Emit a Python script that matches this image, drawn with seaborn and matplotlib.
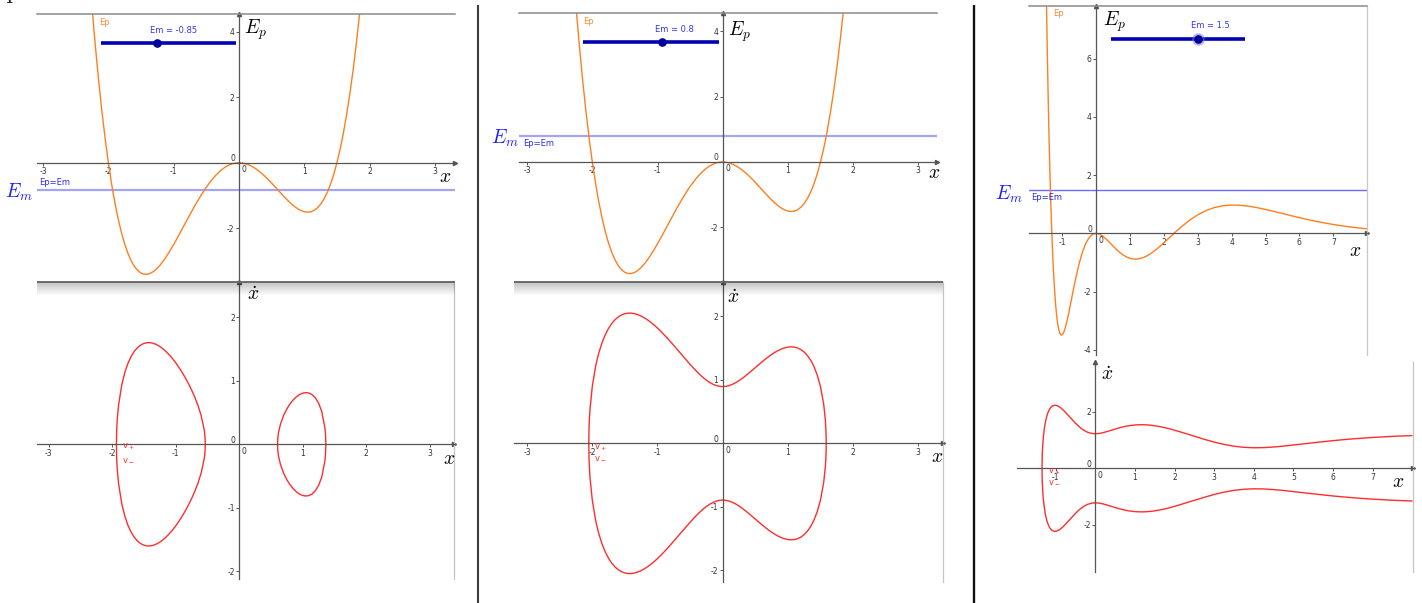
import numpy as np
import matplotlib
matplotlib.use("Agg")
import matplotlib.pyplot as plt
import seaborn as sns

sns.set_theme(style="white")
plt.rcParams.update({
    "font.family": ["DejaVu Sans"],
    "mathtext.fontset": "cm",
    "axes.unicode_minus": False,
})

W, H = 1422, 603

# Potential energy of the double well, shared by the first two views
x_quartic = np.array([-2.3, -2.25, -2.2, -2.15, -2.1, -2.05, -2.045, -2.035, -2, -1.95, -1.929, -1.92, -1.9,
                      -1.85, -1.8, -1.75, -1.7, -1.65, -1.6, -1.55, -1.5, -1.45, -1.4, -1.35, -1.3, -1.25,
                      -1.2, -1.15, -1.1, -1.05, -1, -0.95, -0.9, -0.85, -0.8, -0.75, -0.7, -0.65, -0.6,
                      -0.55, -0.539, -0.5, -0.45, -0.4, -0.35, -0.3, -0.25, -0.2, -0.15, -0.1, -0.05, 0,
                      0.05, 0.1, 0.15, 0.2, 0.25, 0.3, 0.35, 0.4, 0.45, 0.5, 0.55, 0.6, 0.608, 0.62, 0.65,
                      0.7, 0.75, 0.8, 0.85, 0.9, 0.95, 1, 1.05, 1.1, 1.15, 1.2, 1.25, 1.3, 1.35, 1.36, 1.4,
                      1.45, 1.5, 1.55, 1.575, 1.585, 1.6, 1.65, 1.7, 1.75, 1.8, 1.85, 1.9])
ep_quartic = np.array([6.0306, 4.7461, 3.5816, 2.5308, 1.5876, 0.7459, 0.6671, 0.5124, 0, -0.6559, -0.9059,
                       -1.0086, -1.2274, -1.7198, -2.1384, -2.4883, -2.7744, -3.0016, -3.1744, -3.2974,
                       -3.375, -3.4113, -3.4104, -3.3762, -3.3124, -3.2227, -3.1104, -2.9789, -2.8314,
                       -2.6708, -2.5, -2.3217, -2.1384, -1.9526, -1.7664, -1.582, -1.4014, -1.2263, -1.0584,
                       -0.8992, -0.8655, -0.75, -0.6121, -0.4864, -0.3739, -0.2754, -0.1914, -0.1224, -0.0687,
                       -0.0304, -0.0076, 0, -0.0074, -0.0294, -0.0653, -0.1144, -0.1758, -0.2484, -0.3311,
                       -0.4224, -0.5209, -0.625, -0.7328, -0.8424, -0.86, -0.8863, -0.9517, -1.0584, -1.1602,
                       -1.2544, -1.3384, -1.4094, -1.4643, -1.5, -1.5132, -1.5004, -1.4581, -1.3824, -1.2695,
                       -1.1154, -0.9158, -0.8701, -0.6664, -0.3627, 0, 0.4264, 0.6651, 0.7655, 0.9216,
                       1.4906, 2.1386, 2.8711, 3.6936, 4.6118, 5.6316])

# Potential energy of the third view
x_well = np.array([-1.48, -1.47, -1.46, -1.45, -1.44, -1.43, -1.42, -1.41, -1.4, -1.39, -1.38, -1.37, -1.36,
                   -1.35, -1.34, -1.33, -1.32, -1.31, -1.3, -1.28, -1.26, -1.24, -1.22, -1.2, -1.18, -1.16,
                   -1.14, -1.12, -1.1, -1.08, -1.06, -1.04, -1.02, -1, -0.98, -0.96, -0.94, -0.92, -0.9,
                   -0.88, -0.86, -0.84, -0.82, -0.8, -0.78, -0.76, -0.74, -0.72, -0.7, -0.68, -0.66, -0.64,
                   -0.62, -0.6, -0.5, -0.4, -0.3, -0.2, -0.1, 0, 0.1, 0.2, 0.3, 0.4, 0.5, 0.6, 0.7, 0.8,
                   0.9, 1, 1.1, 1.2, 1.3, 1.4, 1.5, 1.6, 1.7, 1.8, 1.9, 2, 2.1, 2.2, 2.3, 2.4, 2.5, 2.75,
                   3, 3.25, 3.5, 3.75, 4, 4.25, 4.5, 4.75, 5, 5.25, 5.5, 5.75, 6, 6.25, 6.5, 6.75, 7, 7.25,
                   7.5, 7.75, 8])
ep_well = np.array([9.339, 8.563, 7.822, 7.116, 6.443, 5.802, 5.192, 4.612, 4.06, 3.537, 3.04, 2.569, 2.122,
                    1.7, 1.3, 0.922, 0.566, 0.23, -0.086, -0.662, -1.169, -1.611, -1.994, -2.323, -2.602,
                    -2.836, -3.028, -3.182, -3.302, -3.391, -3.451, -3.486, -3.498, -3.49, -3.464, -3.422,
                    -3.366, -3.298, -3.219, -3.13, -3.035, -2.933, -2.825, -2.714, -2.599, -2.483, -2.365,
                    -2.246, -2.128, -2.01, -1.893, -1.778, -1.665, -1.555, -1.051, -0.644, -0.342, -0.142,
                    -0.033, 0, -0.027, -0.098, -0.199, -0.314, -0.435, -0.551, -0.656, -0.744, -0.813,
                    -0.86, -0.884, -0.887, -0.869, -0.831, -0.776, -0.707, -0.625, -0.533, -0.433, -0.328,
                    -0.22, -0.111, -0.003, 0.103, 0.206, 0.441, 0.635, 0.784, 0.887, 0.947, 0.97, 0.963,
                    0.931, 0.882, 0.82, 0.752, 0.68, 0.608, 0.538, 0.471, 0.41, 0.353, 0.303, 0.258, 0.218,
                    0.184, 0.154])

em_values = [-0.85, 0.8, 1.5]
slider_min, slider_max = -5, 5
# Turning points where Ep = Em (v+ and v- meet there)
turning_1 = [-1.9338, -0.5339, 0.6035, 1.3642]
turning_2 = [-2.0534, 1.5884]
turning_3 = [-1.3451]

ORANGE = "#ff7f1f"
RED = "#ff2d2d"
AXIS = "#555555"
LABEL = "#333333"

fig = plt.figure(figsize=(W / 100, H / 100), dpi=100)
fig.patch.set_facecolor("white")


def px_axes(l, t, r, b):
    ax = fig.add_axes([l / W, 1 - b / H, (r - l) / W, (b - t) / H])
    ax.patch.set_alpha(0)
    return ax


def geo_axes(ax, xlim, ylim, xticks, yticks, top=None, right=None):
    ax.set_xlim(*xlim)
    ax.set_ylim(*ylim)
    for s in ax.spines.values():
        s.set_visible(False)
    for s in ("left", "bottom"):
        ax.spines[s].set_visible(True)
        ax.spines[s].set_position(("data", 0))
        ax.spines[s].set_color(AXIS)
        ax.spines[s].set_linewidth(0.9)
    if top:
        ax.spines["top"].set_visible(True)
        ax.spines["top"].set_color(top)
        ax.spines["top"].set_linewidth(1.1)
    if right:
        ax.spines["right"].set_visible(True)
        ax.spines["right"].set_color(right)
        ax.spines["right"].set_linewidth(0.9)
    ax.set_xticks(xticks)
    ax.set_xticklabels([str(t) for t in xticks])
    ax.set_yticks(yticks)
    ax.set_yticklabels([str(t) for t in yticks])
    ax.tick_params(direction="out", length=2.2, width=0.7, colors=AXIS, labelsize=5.5,
                   labelcolor=LABEL, pad=1.0)
    ax.tick_params(axis="x", bottom=True)
    ax.tick_params(axis="y", left=True)
    ax.plot(1, 0, ">", transform=ax.get_yaxis_transform(), clip_on=False, ms=3, color=AXIS)
    ax.plot(0, 1, "^", transform=ax.get_xaxis_transform(), clip_on=False, ms=3, color=AXIS)
    ax.annotate("0", (0, 0), xytext=(-4, 4), textcoords="offset pixels", ha="right", va="center",
                fontsize=5.5, color=LABEL)
    ax.annotate("0", (0, 0), xytext=(5, -7), textcoords="offset pixels", ha="center", va="center",
                fontsize=5.5, color=LABEL)


def potential_view(ax, xs, eps, em, em_lw, em_color):
    sns.lineplot(x=xs, y=eps, ax=ax, color=ORANGE, lw=1.0, sort=False, estimator=None)
    ax.axhline(em, color=em_color, lw=em_lw, zorder=1)


def phase_loop(xs, eps, em, a, b):
    inside = (xs > a) & (xs < b)
    xi = xs[inside]
    v = np.sqrt(np.clip(em - eps[inside], 0, None))
    px = np.concatenate([[a], xi, [b], xi[::-1], [a]])
    pv = np.concatenate([[0], v, [0], -v[::-1], [0]])
    return px, pv


def phase_open(xs, eps, em, a):
    inside = xs > a
    xi = xs[inside]
    v = np.sqrt(np.clip(em - eps[inside], 0, None))
    px = np.concatenate([xi[::-1], [a], xi])
    pv = np.concatenate([-v[::-1], [0], v])
    return px, pv


def vlabels(ax, tp, dy):
    ax.annotate(r"$\mathregular{v_+}$", (tp, 0), xytext=(5.5, -dy[0]), textcoords="offset pixels",
                ha="left", va="center", fontsize=6, color=RED)
    ax.annotate(r"$\mathregular{v_-}$", (tp, 0), xytext=(5.5, -dy[1]), textcoords="offset pixels",
                ha="left", va="center", fontsize=6, color=RED)


# ---- view 1: Em = -0.85 ----
ax1 = px_axes(37, 14.3, 455, 281.7)
geo_axes(ax1, (-3.093, 3.308), (-3.639, 4.538), [-3, -2, -1, 1, 2, 3], [-2, 2, 4], top="#8a8a8a")
potential_view(ax1, x_quartic, ep_quartic, em_values[0], 1.6, "#a4a4f6")

ax1p = px_axes(37, 282, 454.3, 579)
geo_axes(ax1p, (-3.184, 3.387), (-2.121, 2.556), [-3, -2, -1, 1, 2, 3], [-2, -1, 1, 2], right="#c4c4c4")
for a, b in [(turning_1[0], turning_1[1]), (turning_1[2], turning_1[3])]:
    px, pv = phase_loop(x_quartic, ep_quartic, em_values[0], a, b)
    sns.lineplot(x=px, y=pv, ax=ax1p, color=RED, lw=1.0, sort=False, estimator=None)
vlabels(ax1p, turning_1[0], (2, 15))

# ---- view 2: Em = 0.8 ----
ax2 = px_axes(519.3, 13.3, 936.7, 281.7)
geo_axes(ax2, (-3.120, 3.282), (-3.661, 4.547), [-3, -2, -1, 1, 2, 3], [-2, 2, 4], top="#8a8a8a")
potential_view(ax2, x_quartic, ep_quartic, em_values[1], 1.6, "#a4a4f6")

ax2p = px_axes(514.3, 282, 943.3, 581.7)
geo_axes(ax2p, (-3.196, 3.384), (-2.181, 2.543), [-3, -2, -1, 1, 2, 3], [-2, -1, 1, 2], right="#c4c4c4")
px, pv = phase_loop(x_quartic, ep_quartic, em_values[1], turning_2[0], turning_2[1])
sns.lineplot(x=px, y=pv, ax=ax2p, color=RED, lw=1.0, sort=False, estimator=None)
vlabels(ax2p, turning_2[0], (4, 14))

# ---- view 3: Em = 1.5 ----
ax3 = px_axes(1029.3, 6, 1367.3, 355)
geo_axes(ax3, (-1.968, 8.003), (-4.182, 7.811), [-1, 1, 2, 3, 4, 5, 6, 7], [-4, -2, 2, 4, 6],
         top="#8a8a8a", right="#c8c8c8")
potential_view(ax3, x_well, ep_well, em_values[2], 1.0, "#6b6bff")

ax3p = px_axes(1016.7, 361.7, 1412.7, 571.7)
geo_axes(ax3p, (-1.985, 8.015), (-3.667, 3.780), [-1, 1, 2, 3, 4, 5, 6, 7], [-2, 2], right="#c4c4c4")
px, pv = phase_open(x_well, ep_well, em_values[2], turning_3[0])
sns.lineplot(x=px, y=pv, ax=ax3p, color=RED, lw=1.0, sort=False, estimator=None)
vlabels(ax3p, turning_3[0], (3, 13))

# ---- overlay in pixel coordinates: separators, sliders, labels ----
bg = fig.add_axes([0, 0, 1, 1])
bg.set_xlim(0, W)
bg.set_ylim(H, 0)
bg.axis("off")
bg.patch.set_alpha(0)
bg.set_zorder(5)

bg.plot([477.7, 477.7], [5, H], color="#3c3c3c", lw=1.5, solid_capstyle="butt")
bg.plot([974, 974], [5, H], color="#111111", lw=1.7, solid_capstyle="butt")
bg.text(10, 3, "I", ha="center", va="baseline", fontsize=14, family="DejaVu Serif", clip_on=False)

shade = np.zeros((40, 1, 4))
shade[:, 0, 3] = np.linspace(0.24, 0.0, 40)
for l, r in [(37, 455), (514.3, 943.3)]:
    bg.imshow(shade, extent=(l, r, 296, 282.5), aspect="auto", interpolation="bilinear", zorder=1)
    bg.plot([l, r], [282, 282], color="#6a6a6a", lw=1.4, solid_capstyle="butt", zorder=2)
bg.set_xlim(0, W)
bg.set_ylim(H, 0)

sliders = [(100.7, 236.0, 43.3), (583.3, 718.7, 42.3), (1110.7, 1245.3, 39.0)]
for i, ((s0, s1, sy), em) in enumerate(zip(sliders, em_values)):
    bg.plot([s0, s1], [sy, sy], color="#0000b4", lw=2.6, solid_capstyle="butt")
    xd = s0 + (em - slider_min) / (slider_max - slider_min) * (s1 - s0)
    if i == 2:
        bg.plot(xd, sy, "o", ms=9, color="#7a7ad8", alpha=0.55, mec="none")
    bg.plot(xd, sy, "o", ms=5.2, color="#00009c", mec="#00009c")
    bg.text(xd - 7, sy - 13, f"Em = {em:g}", ha="left", va="center", fontsize=6, color="#3434ff")

mfs = 14
for (ex, ey), (px_, py_), (dx, dy) in zip([(244, 17), (728, 19), (1103, 9)],
                                          [(445, 176), (934.5, 173), (1355, 250)],
                                          [(253, 295), (733, 297.5), (1107.5, 374)]):
    bg.text(ex, ey, r"$E_p$", ha="left", va="top", fontsize=mfs, color="black")
    bg.text(px_, py_, r"$x$", ha="center", va="center", fontsize=mfs, color="black")
    bg.text(dx, dy, r"$\dot{x}$", ha="center", va="center", fontsize=mfs, color="black")
for px_, py_ in [(449, 458), (936.7, 456.7), (1398, 481.7)]:
    bg.text(px_, py_, r"$x$", ha="center", va="center", fontsize=mfs, color="black")

for ex, ey in [(19, 192), (505, 138), (1009, 194)]:
    bg.text(ex, ey, r"$E_m$", ha="center", va="center", fontsize=mfs, color="#1c1cff")
for ex, ey in [(99, 22.5), (583, 21), (1053, 14)]:
    bg.text(ex, ey, "Ep", ha="left", va="center", fontsize=6, color="#ff8a3a")
for ex, ey in [(39, 182.7), (523, 143.7), (1031, 197.7)]:
    bg.text(ex, ey, "Ep=Em", ha="left", va="center", fontsize=6, color="#2e2ee6")

fig.savefig("out.png", dpi=100, facecolor="white")
